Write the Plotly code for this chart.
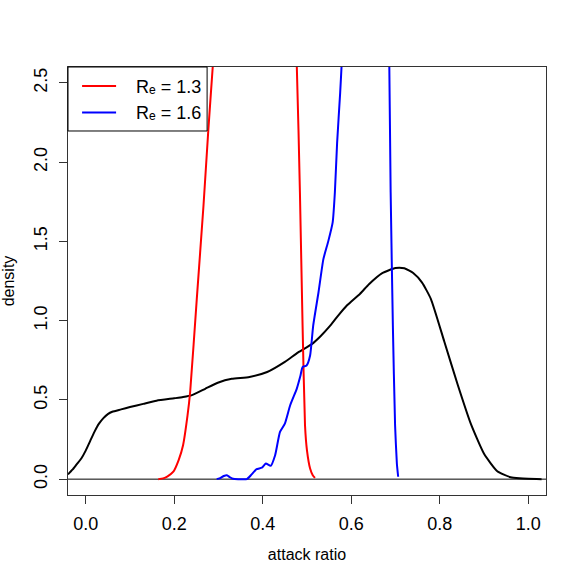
import plotly.graph_objects as go

# black density (all runs)
dens_x = [-0.04, -0.03, -0.02, -0.01, 0.0, 0.01, 0.02, 0.03, 0.04, 0.05, 0.06, 0.08, 0.1, 0.13,
          0.16, 0.2, 0.22, 0.24, 0.27, 0.3, 0.33, 0.37, 0.41, 0.45, 0.48, 0.51, 0.53, 0.55, 0.57,
          0.59, 0.62, 0.64, 0.67, 0.70, 0.72, 0.74, 0.76, 0.78, 0.81, 0.84, 0.87, 0.90, 0.93,
          0.96, 0.98, 1.0, 1.03]
dens_y = [0.03, 0.06, 0.095, 0.13, 0.18, 0.24, 0.30, 0.35, 0.385, 0.41, 0.425, 0.44, 0.455, 0.475,
          0.495, 0.51, 0.518, 0.53, 0.57, 0.61, 0.633, 0.645, 0.676, 0.74, 0.80, 0.85, 0.90, 0.96,
          1.03, 1.095, 1.17, 1.23, 1.30, 1.332, 1.33, 1.30, 1.24, 1.136, 0.87, 0.60, 0.35, 0.16,
          0.05, 0.012, 0.005, 0.002, 0.0]

# R_e = 1.3
red_x = [0.164, 0.175, 0.185, 0.198, 0.21, 0.22, 0.23, 0.236, 0.251, 0.266, 0.277, 0.287, 0.30,
         0.38, 0.47, 0.477, 0.484, 0.49, 0.4955, 0.50, 0.507, 0.513, 0.518]
red_y = [0.0, 0.005, 0.018, 0.047, 0.12, 0.214, 0.40, 0.55, 1.137, 1.72, 2.2, 2.6, 3.1,
         7.0, 2.95, 2.6, 1.81, 0.97, 0.34, 0.18, 0.067, 0.025, 0.008]

# R_e = 1.6
blue_x = [0.296, 0.305, 0.312, 0.319, 0.326, 0.333, 0.345, 0.364, 0.375, 0.386, 0.398, 0.407,
          0.418, 0.428, 0.439, 0.45, 0.462, 0.477, 0.485, 0.49, 0.499, 0.507, 0.514, 0.526,
          0.537, 0.548, 0.558, 0.563, 0.568, 0.575, 0.578, 0.59, 0.63, 0.683, 0.686, 0.689,
          0.694, 0.699, 0.703, 0.706]
blue_y = [0.0, 0.008, 0.02, 0.025, 0.012, 0.002, 0.0, 0.0, 0.03, 0.063, 0.072, 0.099,
          0.084, 0.151, 0.298, 0.35, 0.466, 0.571, 0.65, 0.707, 0.717, 0.78, 0.969, 1.179,
          1.388, 1.5, 1.62, 1.81, 2.12, 2.44, 2.6, 3.3, 10.0, 3.0, 2.6, 1.81,
          0.97, 0.34, 0.1, 0.015]

x_ticks = [0.0, 0.2, 0.4, 0.6, 0.8, 1.0]
y_ticks = [0.0, 0.5, 1.0, 1.5, 2.0, 2.5]

font = "Liberation Sans, Arial, DejaVu Sans, sans-serif"
smooth = dict(shape="spline", smoothing=0.5)
pad = "\u00a0\u00a0\u00a0"

fig = go.Figure()
fig.add_trace(go.Scatter(x=dens_x, y=dens_y, mode="lines", showlegend=False,
                         line=dict(color="black", width=2, **smooth)))
fig.add_trace(go.Scatter(x=red_x, y=red_y, mode="lines", name=pad + "R\u2091 = 1.3",
                         line=dict(color="red", width=2, **smooth)))
fig.add_trace(go.Scatter(x=blue_x, y=blue_y, mode="lines", name=pad + "R\u2091 = 1.6",
                         line=dict(color="blue", width=2, **smooth)))

# h = 0 line and legend box
fig.add_shape(type="line", xref="paper", yref="y", x0=0, x1=1, y0=0, y1=0,
              line=dict(color="black", width=1), layer="below")
fig.add_shape(type="rect", xref="paper", yref="paper", x0=0, x1=0.291, y0=0.8505, y1=1,
              line=dict(color="black", width=1), fillcolor="white", layer="above")

fig.update_layout(
    width=581, height=581,
    margin=dict(l=68, r=35, t=67, b=86),
    paper_bgcolor="white", plot_bgcolor="white",
    font=dict(family=font, size=18, color="black"),
    legend=dict(x=0.019, y=0.998, xanchor="left", yanchor="top", bgcolor="rgba(0,0,0,0)",
                borderwidth=0, font=dict(size=18), itemwidth=34, tracegroupgap=0),
)
fig.update_xaxes(
    range=[-0.04, 1.04], tickvals=x_ticks, tickformat=".1f", ticklabelstandoff=4,
    showgrid=False, zeroline=False, showline=True, mirror=True, linecolor="#333", linewidth=1,
    ticks="outside", ticklen=8, tickcolor="#333", automargin=False,
    title=dict(text="attack ratio", font=dict(size=16), standoff=16),
)
fig.update_yaxes(
    range=[-0.1, 2.6], tickvals=y_ticks, tickformat=".1f", tickangle=-90, ticklabelstandoff=5,
    showgrid=False, zeroline=False, showline=True, mirror=True, linecolor="#333", linewidth=1,
    ticks="outside", ticklen=8, tickcolor="#333", automargin=False,
    title=dict(text="density", font=dict(size=16), standoff=14),
)

fig.write_html("out.html", config={"displayModeBar": False},
               post_script="document.body.style.margin = '0';")
